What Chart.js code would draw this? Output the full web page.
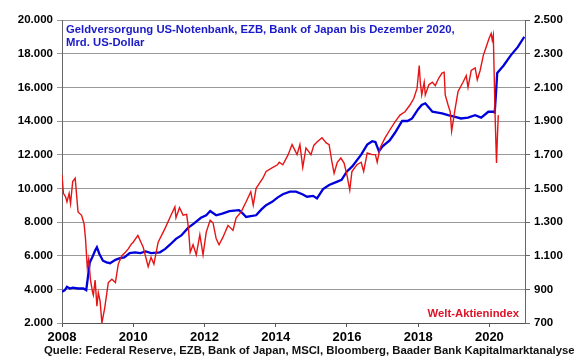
<!DOCTYPE html>
<html lang="de">
<head>
<meta charset="utf-8">
<title>Geldversorgung und Welt-Aktienindex</title>
<script src="https://cdn.jsdelivr.net/npm/chart.js@4.4.1/dist/chart.umd.min.js"></script>
<style>
    html, body { margin: 0; padding: 0; background: #fff; }
    #wrap { width: 580px; height: 359px; position: relative; }
</style>
</head>
<body>
<div id="wrap"><canvas id="moneyChart" width="580" height="359"></canvas></div>
<script>
// Geldversorgung (Mrd. US-Dollar), linke Achse
const moneyYears = [
    2008.00, 2008.08, 2008.14, 2008.22, 2008.30, 2008.45, 2008.60, 2008.68, 2008.72, 2008.78,
    2008.85, 2008.93, 2008.98, 2009.05, 2009.15, 2009.25, 2009.35, 2009.50, 2009.63, 2009.75,
    2009.90, 2010.05, 2010.20, 2010.35, 2010.50, 2010.75, 2010.90, 2011.03, 2011.20, 2011.35,
    2011.54, 2011.70, 2011.90, 2012.05, 2012.16, 2012.33, 2012.50, 2012.70, 2012.97, 2013.08,
    2013.17, 2013.30, 2013.45, 2013.60, 2013.73, 2013.90, 2014.05, 2014.20, 2014.40, 2014.57,
    2014.75, 2014.88, 2015.05, 2015.16, 2015.33, 2015.50, 2015.73, 2015.85, 2016.00, 2016.15,
    2016.40, 2016.57, 2016.71, 2016.80, 2016.90, 2017.00, 2017.20, 2017.35, 2017.55, 2017.70,
    2017.83, 2018.00, 2018.10, 2018.20, 2018.30, 2018.40, 2018.55, 2018.67, 2018.84, 2019.04,
    2019.20, 2019.40, 2019.60, 2019.77, 2019.97, 2020.10, 2020.15, 2020.19, 2020.22, 2020.40,
    2020.60, 2020.80, 2020.98
];
const moneyValues = [
    3850, 3950, 4150, 4050, 4100, 4050, 4050, 3950, 4600, 5600,
    5900, 6300, 6500, 6100, 5700, 5600, 5550, 5750, 5850, 5900,
    6150, 6200, 6150, 6250, 6150, 6200, 6400, 6650, 7000, 7200,
    7650, 7900, 8250, 8400, 8650, 8400, 8500, 8650, 8700, 8500,
    8300, 8350, 8400, 8750, 9000, 9200, 9450, 9650, 9800, 9800,
    9650, 9500, 9550, 9400, 9950, 10200, 10400, 10500, 11000, 11300,
    12000, 12600, 12800, 12750, 12200, 12500, 12850, 13300, 14000, 14000,
    14150, 14700, 14950, 15050, 14800, 14550, 14500, 14450, 14350, 14250,
    14150, 14200, 14350, 14200, 14550, 14550, 14500, 15800, 16850, 17300,
    17900, 18400, 19000
];

// Welt-Aktienindex (MSCI), rechte Achse
const indexYears = [
    2008.00, 2008.04, 2008.10, 2008.14, 2008.20, 2008.24, 2008.30, 2008.37, 2008.45, 2008.55,
    2008.62, 2008.66, 2008.71, 2008.75, 2008.80, 2008.86, 2008.88, 2008.93, 2008.98, 2009.02,
    2009.07, 2009.12, 2009.20, 2009.30, 2009.40, 2009.50, 2009.58, 2009.68, 2009.78, 2009.86,
    2009.95, 2010.00, 2010.13, 2010.28, 2010.42, 2010.50, 2010.58, 2010.70, 2010.90, 2011.06,
    2011.17, 2011.20, 2011.30, 2011.40, 2011.50, 2011.55, 2011.60, 2011.68, 2011.77, 2011.87,
    2011.96, 2012.05, 2012.16, 2012.24, 2012.33, 2012.41, 2012.52, 2012.66, 2012.80, 2012.89,
    2013.03, 2013.17, 2013.30, 2013.37, 2013.45, 2013.64, 2013.73, 2013.92, 2014.05, 2014.10,
    2014.20, 2014.35, 2014.46, 2014.60, 2014.68, 2014.76, 2014.85, 2014.99, 2015.07, 2015.16,
    2015.30, 2015.42, 2015.50, 2015.58, 2015.64, 2015.73, 2015.83, 2015.92, 2016.00, 2016.08,
    2016.14, 2016.28, 2016.40, 2016.47, 2016.57, 2016.71, 2016.80, 2016.85, 2016.93, 2017.07,
    2017.20, 2017.35, 2017.49, 2017.63, 2017.77, 2017.88, 2017.97, 2018.03, 2018.06, 2018.10,
    2018.17, 2018.20, 2018.30, 2018.40, 2018.48, 2018.58, 2018.67, 2018.73, 2018.76, 2018.84,
    2018.90, 2018.94, 2019.04, 2019.12, 2019.26, 2019.35, 2019.40, 2019.49, 2019.60, 2019.66,
    2019.74, 2019.83, 2019.91, 2019.99, 2020.05, 2020.08, 2020.11, 2020.16, 2020.20, 2020.22,
    2020.25
];
const indexValues = [
    1580, 1470, 1450, 1420, 1470, 1410, 1540, 1560, 1360, 1340,
    1290, 1200, 1030, 1080, 955, 880, 865, 955, 800, 880,
    830, 700, 790, 940, 960, 940, 1050, 1100, 1120, 1140,
    1170, 1180, 1220, 1150, 1035, 1090, 1050, 1180, 1265, 1340,
    1390, 1325, 1385, 1340, 1345, 1265, 1120, 1165, 1105, 1225,
    1105, 1240, 1310, 1295, 1200, 1165, 1210, 1280, 1250, 1325,
    1360, 1420, 1480, 1400, 1500, 1560, 1600, 1625, 1640, 1655,
    1640, 1700, 1760, 1700, 1760, 1625, 1740, 1700, 1755, 1775,
    1800, 1770, 1760, 1655, 1590, 1655, 1680, 1650, 1580, 1490,
    1600, 1640, 1655, 1600, 1710, 1700, 1700, 1655, 1740, 1800,
    1845, 1895, 1935, 1955, 1995, 2035, 2095, 2230, 2130, 2055,
    2130, 2055, 2115, 2130, 2110, 2155, 2185, 2190, 2055, 1995,
    1955, 1840, 1975, 2075, 2130, 2170, 2100, 2200, 2215, 2145,
    2200, 2290, 2340, 2390, 2420, 2380, 2410, 1935, 1650, 1775,
    1935
];

// Achsen-Einteilung
const xTicks = [2008, 2010, 2012, 2014, 2016, 2018, 2020];
const leftTicks = [2000, 4000, 6000, 8000, 10000, 12000, 14000, 16000, 18000, 20000];
const rightTicks = [700, 900, 1100, 1300, 1500, 1700, 1900, 2100, 2300, 2500];

const titleLines = ['Geldversorgung US-Notenbank, EZB, Bank of Japan bis Dezember 2020,', 'Mrd. US-Dollar'];
const indexLabel = 'Welt-Aktienindex';
const sourceText = 'Quelle: Federal Reserve, EZB, Bank of Japan, MSCI, Bloomberg, Baader Bank Kapitalmarktanalyse';

const FONT = '"Liberation Sans", Arial, sans-serif';
const BLUE = '#0000dc';
const RED = '#e61414';

document.addEventListener("DOMContentLoaded", function() {
    initMoneyChart();
});

// 20000 -> "20.000"
function formatDe(v) {
    return String(v).replace(/\B(?=(\d{3})+(?!\d))/g, '.');
}

function toPoints(xs, ys) {
    return xs.map((x, i) => ({ x: x, y: ys[i] }));
}

function fixedTicks(list) {
    return function(scale) {
        scale.ticks = list.map(v => ({ value: v }));
    };
}

// Schriftgröße so wählen, dass der Text etwa die Breite im Original hat
function fitFont(ctx, text, width, size) {
    ctx.font = 'bold ' + size + 'px ' + FONT;
    const w = ctx.measureText(text).width;
    ctx.font = 'bold ' + (size * width / w).toFixed(2) + 'px ' + FONT;
}

// Beschriftungen im Diagramm und Quellenangabe
const textPlugin = {
    id: 'chartTexts',
    afterDraw(chart) {
        const ctx = chart.ctx;
        const area = chart.chartArea;
        ctx.save();
        ctx.textBaseline = 'middle';

        ctx.fillStyle = '#1a1ac8';
        fitFont(ctx, titleLines[0], 389, 12);
        ctx.textAlign = 'left';
        ctx.fillText(titleLines[0], area.left + 4, 30);
        ctx.fillText(titleLines[1], area.left + 4, 43);

        ctx.fillStyle = '#dc1428';
        ctx.textAlign = 'right';
        ctx.fillText(indexLabel, area.right - 6, 314);

        ctx.fillStyle = '#111';
        fitFont(ctx, sourceText, 531, 12);
        ctx.textAlign = 'left';
        ctx.fillText(sourceText, 44, 351);
        ctx.restore();
    }
};

function initMoneyChart() {
    const ctx = document.getElementById('moneyChart').getContext('2d');

    new Chart(ctx, {
        type: 'line',
        data: {
            datasets: [
                {
                    label: 'Welt-Aktienindex',
                    data: toPoints(indexYears, indexValues),
                    yAxisID: 'y2',
                    borderColor: RED,
                    borderWidth: 1.4,
                    pointRadius: 0,
                    tension: 0
                },
                {
                    label: 'Geldversorgung',
                    data: toPoints(moneyYears, moneyValues),
                    yAxisID: 'y',
                    borderColor: BLUE,
                    borderWidth: 2.3,
                    pointRadius: 0,
                    tension: 0
                }
            ]
        },
        options: {
            responsive: false,
            animation: false,
            layout: { padding: { top: 20, left: 0, right: 0, bottom: 0 } },
            plugins: {
                legend: { display: false },
                tooltip: { enabled: false }
            },
            scales: {
                x: {
                    type: 'linear',
                    min: 2008,
                    max: 2021,
                    afterBuildTicks: fixedTicks(xTicks),
                    afterFit: s => { s.height = 36; },
                    grid: { drawOnChartArea: false, tickLength: 4, color: '#555' },
                    border: { color: '#555' },
                    ticks: {
                        padding: 3,
                        color: '#000',
                        font: { family: FONT, size: 13, weight: 'bold' },
                        callback: v => String(v)
                    }
                },
                y: {
                    position: 'left',
                    min: 2000,
                    max: 20000,
                    afterBuildTicks: fixedTicks(leftTicks),
                    afterFit: s => { s.width = 62; },
                    grid: { color: '#999', tickLength: 5 },
                    border: { color: '#666' },
                    ticks: {
                        padding: 4,
                        color: '#000',
                        font: { family: FONT, size: 11.5, weight: 'bold' },
                        callback: v => formatDe(v)
                    }
                },
                y2: {
                    position: 'right',
                    min: 700,
                    max: 2500,
                    afterBuildTicks: fixedTicks(rightTicks),
                    afterFit: s => { s.width = 55; },
                    grid: { drawOnChartArea: false, color: '#666', tickLength: 5 },
                    border: { color: '#666' },
                    ticks: {
                        padding: 4,
                        color: '#000',
                        font: { family: FONT, size: 11.5, weight: 'bold' },
                        callback: v => formatDe(v)
                    }
                }
            }
        },
        plugins: [textPlugin]
    });
}
</script>
</body>
</html>
